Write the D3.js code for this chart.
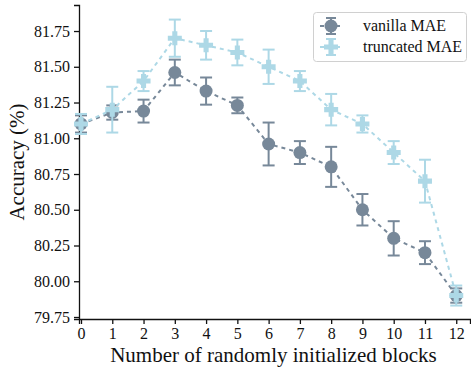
<!DOCTYPE html>
<html>
<head>
<meta charset="utf-8">
<script src="https://cdn.jsdelivr.net/npm/d3@7"></script>
<style>
  body { margin: 0; background: #fff; }
  text { font-family: "Liberation Serif", "Times New Roman", serif; fill: #111; }
</style>
</head>
<body>
<div id="vis"></div>
<script>
var blocks = [0, 1, 2, 3, 4, 5, 6, 7, 8, 9, 10, 11, 12];
var vanillaMean = [81.10, 81.18, 81.19, 81.46, 81.33, 81.23, 80.96, 80.90, 80.80, 80.50, 80.30, 80.20, 79.90];
var vanillaErr  = [0.06, 0.05, 0.08, 0.09, 0.095, 0.055, 0.15, 0.08, 0.14, 0.11, 0.12, 0.08, 0.05];
var truncMean   = [81.10, 81.20, 81.40, 81.70, 81.65, 81.60, 81.50, 81.40, 81.20, 81.10, 80.90, 80.70, 79.90];
var truncErr    = [0.07, 0.16, 0.07, 0.13, 0.10, 0.09, 0.12, 0.07, 0.11, 0.06, 0.08, 0.15, 0.07];
var yTicks = [79.75, 80.00, 80.25, 80.50, 80.75, 81.00, 81.25, 81.50, 81.75];

var W = 471, H = 371;
var padL = 79, padB = 319, padT = 5, padR = 470;

var series = [
  {name: "vanilla MAE", color: "#778899", shape: "circle", mean: vanillaMean, err: vanillaErr},
  {name: "truncated MAE", color: "#add8e6", shape: "plus", mean: truncMean, err: truncErr}
];

var x = d3.scaleLinear().domain([-0.064, 12.44]).range([padL, padR]);
var y = d3.scaleLinear().domain([79.736, 81.932]).range([padB, padT]);

var svg = d3.select("#vis").append("svg")
    .attr("width", W)
    .attr("height", H);

// axes
var xAxis = svg.append("g")
    .attr("transform", "translate(0," + padB + ")")
    .call(d3.axisBottom(x).tickValues(blocks).tickFormat(d3.format("d")).tickSizeOuter(0).tickSize(5).tickPadding(4));
var yAxis = svg.append("g")
    .attr("transform", "translate(" + padL + ",0)")
    .call(d3.axisLeft(y).tickValues(yTicks).tickFormat(d3.format(".2f")).tickSizeOuter(0).tickSize(5).tickPadding(4));

[xAxis, yAxis].forEach(function(g) {
  g.select(".domain").attr("stroke", "#111").attr("stroke-width", 1.3);
  g.selectAll(".tick line").attr("stroke", "#111").attr("stroke-width", 1.3);
  g.selectAll(".tick text")
    .style("font-family", "'Liberation Serif', serif")
    .style("font-size", "16px")
    .attr("fill", "#111");
});

svg.append("text")
    .attr("x", (padL + padR) / 2 - 1)
    .attr("y", 362)
    .attr("text-anchor", "middle")
    .style("font-size", "21px")
    .text("Number of randomly initialized blocks");

svg.append("text")
    .attr("transform", "translate(24," + ((padT + padB) / 2) + ") rotate(-90)")
    .attr("text-anchor", "middle")
    .style("font-size", "21px")
    .text("Accuracy (%)");

function plusPath(s) {
  var a = s / 2, b = s / 5.5;
  return "M" + (-b) + "," + (-a) + "H" + b + "V" + (-b) + "H" + a + "V" + b + "H" + b +
         "V" + a + "H" + (-b) + "V" + b + "H" + (-a) + "V" + (-b) + "H" + (-b) + "Z";
}

function marker(g, s, cx, cy) {
  if (s.shape === "circle") {
    g.append("circle").attr("cx", cx).attr("cy", cy).attr("r", 6.5).attr("fill", s.color);
  } else {
    g.append("path").attr("d", plusPath(14))
      .attr("transform", "translate(" + cx + "," + cy + ")")
      .attr("fill", s.color);
  }
}

var line = d3.line()
    .x(function(d) { return x(d.b); })
    .y(function(d) { return y(d.m); });

series.forEach(function(s) {
  var pts = blocks.map(function(b, i) { return {b: b, m: s.mean[i], e: s.err[i]}; });
  var g = svg.append("g");

  g.append("path")
      .datum(pts)
      .attr("d", line)
      .attr("fill", "none")
      .attr("stroke", s.color)
      .attr("stroke-width", 2)
      .attr("stroke-dasharray", "4,4");

  pts.forEach(function(d) {
    var cx = x(d.b), y0 = y(d.m - d.e), y1 = y(d.m + d.e);
    g.append("line").attr("x1", cx).attr("x2", cx).attr("y1", y0).attr("y2", y1)
      .attr("stroke", s.color).attr("stroke-width", 2);
    [y0, y1].forEach(function(yy) {
      g.append("line").attr("x1", cx - 6).attr("x2", cx + 6).attr("y1", yy).attr("y2", yy)
        .attr("stroke", s.color).attr("stroke-width", 2);
    });
    marker(g, s, cx, y(d.m));
  });
});

// legend
var leg = svg.append("g");
leg.append("rect")
    .attr("x", 313.5).attr("y", 12.5)
    .attr("width", 153).attr("height", 49)
    .attr("rx", 3)
    .attr("fill", "#fff")
    .attr("fill-opacity", 0.8)
    .attr("stroke", "#d0d0d0");

series.forEach(function(s, i) {
  var ly = 26 + i * 21;
  var g = leg.append("g");
  g.append("line").attr("x1", 320).attr("x2", 343).attr("y1", ly).attr("y2", ly)
    .attr("stroke", s.color).attr("stroke-width", 2).attr("stroke-dasharray", "4,4");
  g.append("line").attr("x1", 331).attr("x2", 331).attr("y1", ly - 8).attr("y2", ly + 8)
    .attr("stroke", s.color).attr("stroke-width", 2);
  [ly - 8, ly + 8].forEach(function(yy) {
    g.append("line").attr("x1", 326).attr("x2", 336).attr("y1", yy).attr("y2", yy)
      .attr("stroke", s.color).attr("stroke-width", 2);
  });
  marker(g, s, 331, ly);
  g.append("text")
    .attr("x", 363).attr("y", ly + 5)
    .style("font-size", "16px")
    .text(s.name);
});
</script>
</body>
</html>
